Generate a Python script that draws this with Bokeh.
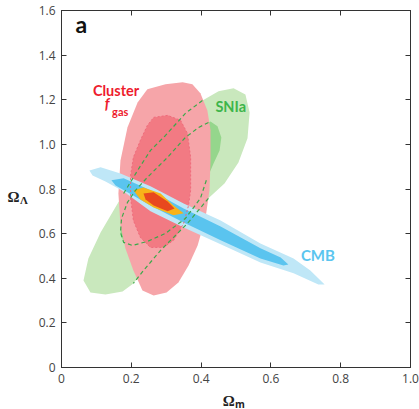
from bokeh.plotting import figure
from bokeh.layouts import row, column
from bokeh.models import FixedTicker, LinearAxis, Range1d, Label
from bokeh.core.properties import value
from bokeh.embed import file_html
from bokeh.resources import INLINE

# ---- data ----
x_ticks = [0, 0.2, 0.4, 0.6, 0.8, 1.0]
x_tick_labels = ["0", "0.2", "0.4", "0.6", "0.8", "1.0"]
y_ticks = [0, 0.2, 0.4, 0.6, 0.8, 1.0, 1.2, 1.4, 1.6]
y_tick_labels = ["0", "0.2", "0.4", "0.6", "0.8", "1.0", "1.2", "1.4", "1.6"]

# SNIa 95% contour (outer)
sn_outer_om = [0.493, 0.527, 0.539, 0.533, 0.507, 0.467, 0.421, 0.361, 0.284, 0.235, 0.206, 0.175,
               0.126, 0.083, 0.063, 0.077, 0.112, 0.149, 0.178, 0.218, 0.255, 0.298, 0.355, 0.404, 0.450]
sn_outer_ol = [1.251, 1.224, 1.143, 1.027, 0.919, 0.825, 0.758, 0.646, 0.525, 0.435, 0.377, 0.341,
               0.327, 0.336, 0.390, 0.489, 0.605, 0.704, 0.780, 0.883, 0.973, 1.040, 1.139, 1.197, 1.238]
# SNIa 68% contour (inner)
sn_inner_om = [0.427, 0.447, 0.458, 0.453, 0.436, 0.415, 0.398, 0.355, 0.298, 0.246, 0.203, 0.178,
               0.169, 0.172, 0.189, 0.212, 0.246, 0.304, 0.355, 0.393]
sn_inner_ol = [1.103, 1.081, 1.031, 0.973, 0.915, 0.839, 0.758, 0.668, 0.601, 0.565, 0.547, 0.561,
               0.605, 0.668, 0.740, 0.794, 0.852, 0.942, 1.031, 1.076]

# Cluster fgas 95% contour (outer)
cl_outer_om = [0.246, 0.298, 0.347, 0.375, 0.398, 0.418, 0.427, 0.427, 0.424, 0.413, 0.390, 0.364,
               0.335, 0.301, 0.264, 0.232, 0.206, 0.183, 0.169, 0.163, 0.169, 0.189, 0.218]
cl_outer_ol = [1.247, 1.269, 1.278, 1.269, 1.229, 1.152, 1.063, 0.928, 0.794, 0.673, 0.547, 0.457,
               0.381, 0.336, 0.323, 0.345, 0.435, 0.534, 0.637, 0.780, 0.928, 1.076, 1.188]
# Cluster fgas 68% contour (inner)
cl_inner_om = [0.264, 0.304, 0.341, 0.361, 0.370, 0.370, 0.364, 0.350, 0.321, 0.292, 0.255, 0.226,
               0.206, 0.198, 0.198, 0.206, 0.226, 0.246]
cl_inner_ol = [1.121, 1.130, 1.108, 1.049, 0.942, 0.794, 0.726, 0.646, 0.570, 0.538, 0.538, 0.583,
               0.659, 0.762, 0.861, 0.942, 1.018, 1.085]

# CMB 95% contour (outer)
cmb_outer_om = [0.080, 0.112, 0.169, 0.255, 0.350, 0.456, 0.570, 0.665, 0.713, 0.754, 0.736, 0.665,
                0.570, 0.456, 0.350, 0.255, 0.178, 0.126, 0.089]
cmb_outer_ol = [0.883, 0.897, 0.870, 0.812, 0.735, 0.659, 0.556, 0.489, 0.435, 0.372, 0.372, 0.422,
                0.471, 0.552, 0.628, 0.700, 0.789, 0.834, 0.861]
# CMB 68% contour (inner)
cmb_inner_om = [0.143, 0.178, 0.255, 0.350, 0.456, 0.570, 0.628, 0.650, 0.636, 0.570, 0.456, 0.350,
                0.255, 0.189, 0.155]
cmb_inner_ol = [0.839, 0.848, 0.794, 0.713, 0.632, 0.534, 0.493, 0.462, 0.457, 0.489, 0.570, 0.650,
                0.726, 0.785, 0.816]

# Combined 95% (yellow) and 68% (red)
comb_outer_om = [0.206, 0.235, 0.284, 0.321, 0.350, 0.321, 0.264, 0.226]
comb_outer_ol = [0.794, 0.807, 0.780, 0.726, 0.691, 0.682, 0.717, 0.753]
comb_inner_om = [0.235, 0.264, 0.304, 0.324, 0.304, 0.264, 0.241]
comb_inner_ol = [0.780, 0.785, 0.744, 0.713, 0.700, 0.726, 0.753]

# ---- layout geometry ----
W_LEFT = 30          # strip holding the y-axis title
H_BOTTOM = 21        # strip holding the x-axis title
W_MAIN = 419 - W_LEFT
H_MAIN = 409 - H_BOTTOM
FRAME_L, FRAME_R, FRAME_T, FRAME_B = 61, 410, 10, 367

xr = Range1d(0, 1)
yr = Range1d(0, 1.6)

p = figure(width=W_MAIN, height=H_MAIN, x_range=xr, y_range=yr,
           output_backend="svg", toolbar_location=None, min_border=0,
           min_border_left=FRAME_L - W_LEFT, min_border_right=419 - FRAME_R,
           min_border_top=FRAME_T, min_border_bottom=H_MAIN - FRAME_B)
p.background_fill_color = "white"
p.border_fill_color = "white"
p.grid.visible = False
p.outline_line_color = "#333333"
p.outline_line_width = 1

TICK_FONT = "Open Sans"
for ax, ticks, labels in ((p.xaxis[0], x_ticks, x_tick_labels), (p.yaxis[0], y_ticks, y_tick_labels)):
    ax.ticker = FixedTicker(ticks=ticks)
    ax.major_label_overrides = dict(zip(ticks, labels))
    ax.major_tick_in = 5
    ax.major_tick_out = 0
    ax.minor_tick_line_color = None
    ax.axis_line_color = "#333333"
    ax.major_tick_line_color = "#333333"
    ax.major_label_text_font = TICK_FONT
    ax.major_label_text_font_size = "12px"
    ax.major_label_text_color = "#444444"
    ax.major_label_standoff = 6

for loc, ticks in (("above", x_ticks), ("right", y_ticks)):
    extra = LinearAxis(ticker=FixedTicker(ticks=ticks),
                       major_label_overrides={t: "" for t in ticks},
                       major_tick_in=5, major_tick_out=0, minor_tick_line_color=None,
                       axis_line_color="#333333", major_tick_line_color="#333333",
                       major_label_standoff=0, major_label_text_font_size="1px")
    p.add_layout(extra, loc)

# ---- contours ----
p.patch(sn_outer_om, sn_outer_ol, fill_color="#c9e8bd", line_color=None)
p.patch(sn_inner_om, sn_inner_ol, fill_color="#95d68c", line_color=None)
p.patch(cl_outer_om, cl_outer_ol, fill_color="#f6a5a9", line_color=None)
p.patch(cl_inner_om, cl_inner_ol, fill_color="#f27a83", line_color=None)
p.patch(cmb_outer_om, cmb_outer_ol, fill_color="#bfe7f7", line_color=None)
p.patch(cmb_inner_om, cmb_inner_ol, fill_color="#5ac4ef", line_color=None)
p.patch(comb_outer_om, comb_outer_ol, fill_color="#f8b319", line_color=None)
p.patch(comb_inner_om, comb_inner_ol, fill_color="#e8481e", line_color=None)

# cluster inner contour dashed where it crosses the CMB band
p.line(cl_inner_om + cl_inner_om[:1], cl_inner_ol + cl_inner_ol[:1],
       line_color="#ef6b7c", line_width=1, line_dash="2 2")

# SNIa contours drawn dashed over the cluster region
GREEN_D = "#3aa94a"
p.line(sn_outer_om[18:24], sn_outer_ol[18:24], line_color=GREEN_D, line_width=1.2, line_dash="4 3")
p.line(sn_outer_om[6:11], sn_outer_ol[6:11], line_color=GREEN_D, line_width=1.2, line_dash="4 3")
p.line(sn_inner_om[5:] + sn_inner_om[:1], sn_inner_ol[5:] + sn_inner_ol[:1],
       line_color=GREEN_D, line_width=1.2, line_dash="4 3")

# ---- in-plot labels ----
LBL = "Lato"
p.add_layout(Label(x=0.040, y=1.478, text="a", text_font=LBL, text_font_style="bold",
                   text_font_size="23px", text_color="#111111"))
p.add_layout(Label(x=0.090, y=1.204, text="Cluster", text_font=LBL, text_font_style="bold",
                   text_font_size="14.5px", text_color="#ee1c2e"))
p.add_layout(Label(x=0.124, y=1.143, text="f", text_font=LBL, text_font_style="bold italic",
                   text_font_size="14.5px", text_color="#ee1c2e"))
p.add_layout(Label(x=0.145, y=1.117, text="gas", text_font=LBL, text_font_style="bold",
                   text_font_size="11px", text_color="#ee1c2e"))
p.add_layout(Label(x=0.441, y=1.130, text="SNIa", text_font=LBL, text_font_style="bold",
                   text_font_size="14.5px", text_color="#3db54a"))
p.add_layout(Label(x=0.686, y=0.462, text="CMB", text_font=LBL, text_font_style="bold",
                   text_font_size="15px", text_color="#5bc5ef"))

# ---- y-axis title strip (left) ----
left = figure(width=W_LEFT, height=409, x_range=Range1d(0, W_LEFT), y_range=yr,
              output_backend="svg", toolbar_location=None, min_border=0,
              min_border_top=FRAME_T, min_border_bottom=409 - FRAME_B,
              x_axis_type=None, y_axis_type=None)
left.grid.visible = False
left.outline_line_color = None
left.background_fill_color = "white"
left.border_fill_color = "white"
left.text(x=[7], y=[0.766], text=["Ω"], text_font=value("Liberation Serif"),
          text_font_style="bold", text_font_size="15px", text_color="#222222",
          text_baseline="alphabetic", text_align="left")
left.text(x=[19.5], y=[0.752], text=["Λ"], text_font=value("Liberation Serif"),
          text_font_style="bold", text_font_size="11px", text_color="#222222",
          text_baseline="alphabetic", text_align="left")

# ---- x-axis title strip (bottom) ----
bottom = figure(width=W_MAIN, height=H_BOTTOM, x_range=xr, y_range=Range1d(H_BOTTOM, 0),
                output_backend="svg", toolbar_location=None, min_border=0,
                min_border_left=FRAME_L - W_LEFT, min_border_right=419 - FRAME_R,
                x_axis_type=None, y_axis_type=None)
bottom.grid.visible = False
bottom.outline_line_color = None
bottom.background_fill_color = "white"
bottom.border_fill_color = "white"
bottom.text(x=[0.462], y=[12.5], text=["Ω"], text_font=value("Liberation Serif"),
            text_font_style="bold", text_font_size="15px", text_color="#222222",
            text_baseline="alphabetic", text_align="left")
bottom.text(x=[0.497], y=[15], text=["m"], text_font=value(TICK_FONT),
            text_font_style="bold", text_font_size="10px", text_color="#222222",
            text_baseline="alphabetic", text_align="left")

layout = row(left, column(p, bottom, spacing=0), spacing=0)
open("out.html", "w").write(file_html(layout, INLINE))
